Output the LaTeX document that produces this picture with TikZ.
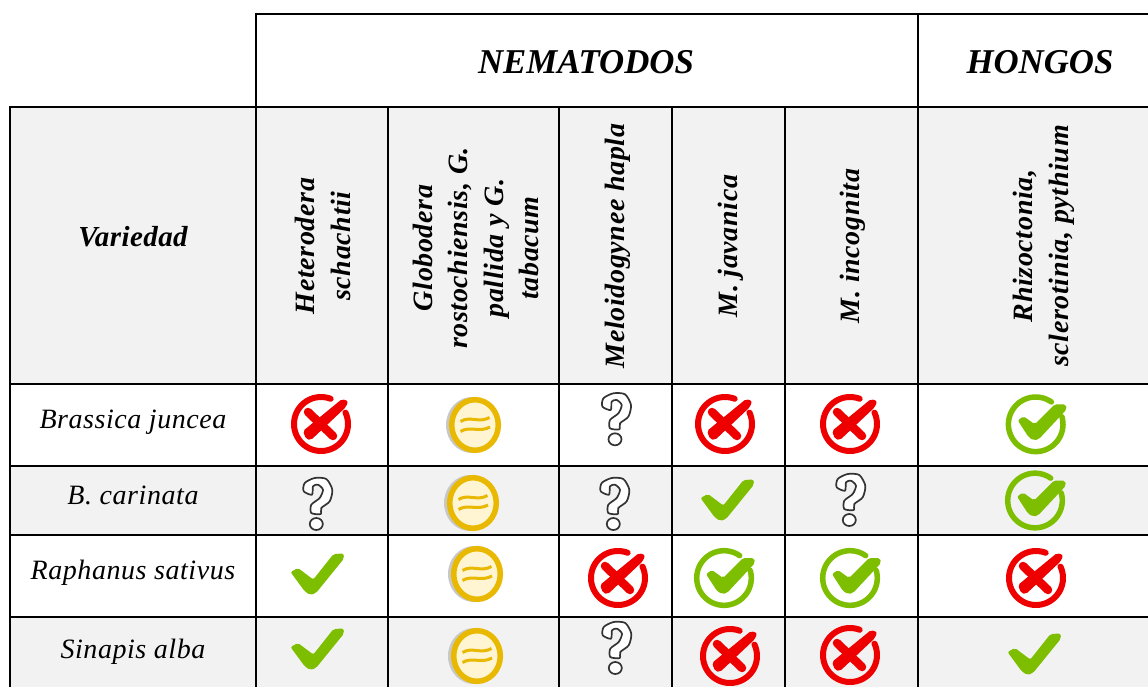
\documentclass[tikz,border=0pt]{standalone}
\usepackage{fontspec}
\setmainfont{Liberation Serif}
\definecolor{cellgrey}{HTML}{F2F2F2}
\definecolor{xred}{HTML}{EE0000}
\definecolor{okgreen}{HTML}{7DBE00}
\definecolor{coingold}{HTML}{E9B800}
\definecolor{coincream}{HTML}{FFF5D2}
\definecolor{coinshadow}{HTML}{C8C8C8}
\definecolor{qline}{HTML}{333333}
\tikzset{
  x=1pt,y=-1pt,
  gridline/.style={line width=2pt,black,line cap=rect},
  rowlabel/.style={font=\fontsize{28}{34}\selectfont\itshape\addfontfeature{LetterSpace=2},inner sep=0pt,anchor=base},
  grouplabel/.style={font=\fontsize{34.8}{40}\selectfont\bfseries\itshape,inner sep=0pt},
  vlabel/.style={font=\fontsize{28}{35.5}\selectfont\bfseries\itshape\addfontfeature{LetterSpace=2.3},inner sep=0pt,rotate=90,align=center},
  xcirc/.pic={
    \draw[xred,line width=6pt,line cap=round] plot[domain=-25:291,samples=60] ({27*cos(\x)},{27*sin(\x)});
    \draw[xred,line width=8.5pt,line cap=round] (-13,-12) -- (12,12);
    \fill[xred,rounded corners=2pt] (-18,7) -- (21,-25) -- (27,-23) -- (25,-17) -- (-10,16) -- (-15,15) -- cycle;
  },
  okcheck/.pic={
    \fill[okgreen,rounded corners=2pt] (-26.5,-1) -- (-19,-5) -- (-3.7,6.5) -- (16.5,-19) -- (26.5,-19.5) -- (27,-14.5) -- (-1,20) -- (-7,22) -- (-12.5,18) -- cycle;
  },
  okcirc/.pic={
    \draw[okgreen,line width=5.5pt,line cap=round] plot[domain=-16:305,samples=60] ({27.3*cos(\x)},{27.3*sin(\x)});
    \fill[okgreen,rounded corners=2pt] (-18,-4) -- (-12,-8) -- (-1,0) -- (19,-20) -- (30,-20) -- (31,-15) -- (3,15) -- (-2,16) -- (-7,13) -- cycle;
  },
  coin/.pic={
    \fill[coinshadow] (-3,0) ellipse[x radius=26,y radius=28];
    \draw[coingold,fill=coincream,line width=5.5pt] (0,0) ellipse[x radius=23.3,y radius=25.3];
    \draw[coingold,line width=3pt] (-14.5,-3.5) .. controls (-5,-9.5) and (4,-1.5) .. (14.5,-7.5);
    \draw[coingold,line width=3pt] (-14.5,6.5) .. controls (-5,0.5) and (4,8) .. (15,2);
  },
  qmark/.pic={
    \draw[qline,line width=1.7pt,fill=white,line join=round] plot[smooth cycle,tension=0.45] coordinates {(-14.3,-11.7) (-13.3,-20) (-3.3,-25) (8.3,-24) (14.3,-13.3) (11.7,-1.7) (3.3,5) (2.7,11) (-6.7,10) (-6.7,1.7) (1.7,-5) (5,-13.3) (0,-18.3) (-5,-16.7) (-6,-8.3)};
    \draw[qline,line width=1.7pt,fill=white] (-1.7,21) ellipse[x radius=6.5,y radius=6];
  }
}
\begin{document}
\begin{tikzpicture}
\useasboundingbox (0,0) rectangle (1148,687);
\fill[white] (0,0) rectangle (1148,687);
% shaded rows
\fill[cellgrey] (10,107) rectangle (1148,384);
\fill[cellgrey] (10,466) rectangle (1148,534.5);
\fill[cellgrey] (10,617) rectangle (1148,687);
% grid
\draw[gridline] (256,14) -- (1148,14);
\draw[gridline] (10,107) -- (1148,107);
\draw[gridline] (10,384) -- (1148,384);
\draw[gridline] (10,466) -- (1148,466);
\draw[gridline] (10,534.5) -- (1148,534.5);
\draw[gridline] (10,617) -- (1148,617);
\draw[gridline] (10,107) -- (10,687);
\draw[gridline] (256,14) -- (256,687);
\draw[gridline] (918,14) -- (918,687);
\foreach \gx in {388,558.5,672,785.3} \draw[gridline] (\gx,107) -- (\gx,687);
% header text
\node[grouplabel] (nem) at (586,62) {NEMATODOS};
\node[grouplabel] (hon) at (1040,62) {HONGOS};
\node[font=\fontsize{29}{35}\selectfont\bfseries\itshape\addfontfeature{LetterSpace=1.5},inner sep=0pt] (var) at (133,237) {Variedad};
\node[vlabel] (h1) at (323,246) {Heterodera\\schachtii};
\node[vlabel] (h2) at (476,248) {Globodera\\rostochiensis, G.\\pallida y G.\\tabacum};
\node[vlabel] (h3) at (618,246) {Meloidogynee hapla};
\node[vlabel] (h4) at (731,246) {M. javanica};
\node[vlabel] (h5) at (853,246) {M. incognita};
\node[vlabel] (h6) at (1044,246) {Rhizoctonia,\\sclerotinia, pythium};
% row labels
\node[rowlabel] (r1) at (133,428) {Brassica juncea};
\node[rowlabel] (r2) at (133,504) {B. carinata};
\node[rowlabel] (r3) at (133,579) {Raphanus sativus};
\node[rowlabel] (r4) at (133,658) {Sinapis alba};
% icons
\foreach \px/\py in {321/424,725/424,850/424,618/578,1036/578,730/656,850/655}
  \pic at (\px,\py) {xcirc};
\foreach \px/\py in {475/425,473/503,477/574,477/656}
  \pic at (\px,\py) {coin};
\foreach \px/\py in {616.7/418.3,318/503,615/503,851/499,617/647}
  \pic at (\px,\py) {qmark};
\foreach \px/\py in {727/499,317/573,317/648,1034/653}
  \pic at (\px,\py) {okcheck};
\foreach \px/\py in {1035.7/424.3,1035/500.5,724/578,850/578}
  \pic at (\px,\py) {okcirc};
\end{tikzpicture}
\end{document}
